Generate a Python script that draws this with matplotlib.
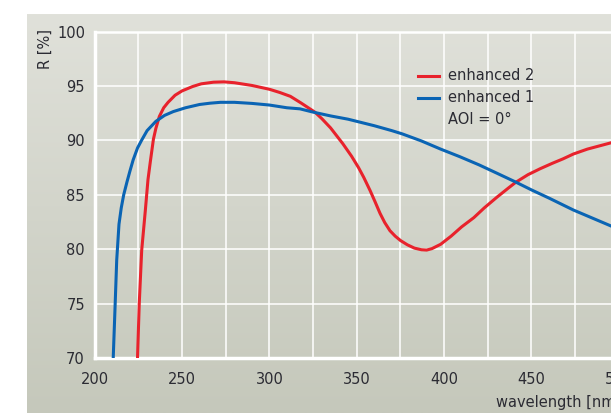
import numpy as np
import matplotlib
matplotlib.use("Agg")
import matplotlib.pyplot as plt
from matplotlib.lines import Line2D

# Reflexionskurven (Wellenlänge in nm, R in %)
wl_enh2 = [224.5, 225.5, 226.9, 229.0, 230.5, 231.8, 233.6, 235.0, 237.0, 239.5, 242,
           246, 250, 256, 261, 268, 274, 280, 290, 300, 306, 312, 318, 326, 330, 335,
           342, 347, 351, 354, 357.6, 360.5, 363.3, 366, 369, 372, 375, 379, 383, 387,
           390, 393, 398, 404, 410, 417, 423, 430, 437, 441, 448, 455, 462, 468, 474,
           482, 489, 496, 503]
r_enh2 = [70.0, 75.0, 79.9, 83.6, 86.4, 88.0, 90.1, 91.1, 92.2, 93.0, 93.5,
          94.15, 94.55, 94.95, 95.2, 95.35, 95.38, 95.3, 95.05, 94.7, 94.4, 94.05, 93.45,
          92.6, 92.0, 91.15, 89.7, 88.55, 87.5, 86.6, 85.4, 84.35, 83.3, 82.45, 81.7,
          81.2, 80.8, 80.4, 80.1, 79.95, 79.92, 80.05, 80.45, 81.2, 82.05, 82.9, 83.8,
          84.75, 85.65, 86.15, 86.85, 87.4, 87.9, 88.3, 88.75, 89.2, 89.5, 89.8, 90.0]

wl_enh1 = [210.6, 211.5, 212.6, 213.9, 215.2, 216.6, 218.5, 220.2, 222.0, 224.5, 226.8,
           230, 235, 240, 245, 252, 260, 266, 272, 280, 290, 300, 310, 317.5, 325, 335,
           345, 350, 360, 370, 376, 387, 398, 409, 420, 430, 440.6, 450, 460, 474, 485,
           496, 503]
r_enh1 = [70.0, 74.0, 79.0, 82.3, 83.8, 85.0, 86.2, 87.2, 88.2, 89.3, 90.0,
          90.9, 91.75, 92.3, 92.65, 93.0, 93.3, 93.42, 93.5, 93.5, 93.4, 93.25, 93.0,
          92.9, 92.6, 92.25, 91.95, 91.75, 91.35, 90.9, 90.6, 89.95, 89.2, 88.5, 87.75,
          87.0, 86.2, 85.45, 84.7, 83.6, 82.85, 82.1, 81.6]

x_ticks = [200, 250, 300, 350, 400, 450, 500]
y_ticks = [70, 75, 80, 85, 90, 95, 100]

rot = "#e8222c"
blau = "#0a64b4"
text_col = "#2b2b33"

W, H = 611, 413
fig = plt.figure(figsize=(W / 100, H / 100), dpi=100)
fig.patch.set_facecolor("white")

# grauer Hintergrund mit Verlauf
bg = fig.add_axes([27 / W, 0, 1 - 27 / W, (H - 14) / H])
grad = np.linspace(0, 1, 256).reshape(-1, 1)
cmap = matplotlib.colors.LinearSegmentedColormap.from_list("bg", ["#e0e1da", "#c5c8bb"])
bg.imshow(grad, aspect="auto", cmap=cmap, extent=[0, 1, 0, 1])
bg.axis("off")

ax = fig.add_axes([94.7 / W, 55 / H, 611.5 / W, 326.4 / H])
ax.set_facecolor("none")
ax.set_xlim(200, 550)
ax.set_ylim(70, 100)

ax.plot(wl_enh2, r_enh2, color=rot, lw=2.2, solid_capstyle="butt",
        solid_joinstyle="round", zorder=3)
ax.plot(wl_enh1, r_enh1, color=blau, lw=2.2, solid_capstyle="butt",
        solid_joinstyle="round", zorder=3)

ax.set_xticks(x_ticks)
ax.set_xticks(np.arange(225, 550, 50), minor=True)
ax.set_yticks(y_ticks)
ax.grid(True, which="both", color="white", lw=1.1, zorder=1)
ax.set_axisbelow(True)
ax.tick_params(which="both", length=0, labelsize=10.5, colors=text_col)
ax.tick_params(axis="y", pad=7)
ax.tick_params(axis="x", pad=10)

ax.spines["right"].set_visible(False)
for side in ["left", "bottom"]:
    ax.spines[side].set_color("white")
    ax.spines[side].set_linewidth(2.5)
ax.spines["top"].set_color("white")
ax.spines["top"].set_linewidth(1.8)

fig.text(45 / W, 1 - 49 / H, "R [%]", rotation=90, ha="center", va="center",
         fontsize=10.5, color=text_col)
fig.text(496 / W, 1 - 403 / H, "wavelength [nm]", ha="left", va="center",
         fontsize=10.5, color=text_col)

# Legende
for yy, col, lab in [(75.7, rot, "enhanced 2"), (97.7, blau, "enhanced 1")]:
    fig.add_artist(Line2D([418 / W, 439 / W], [1 - yy / H, 1 - yy / H], color=col, lw=2.2))
    fig.text(448 / W, 1 - yy / H, lab, ha="left", va="center", fontsize=10.5, color=text_col)
fig.text(448 / W, 1 - 120 / H, "AOI = 0°", ha="left", va="center", fontsize=10.5, color=text_col)

fig.savefig("out.png", dpi=100)
